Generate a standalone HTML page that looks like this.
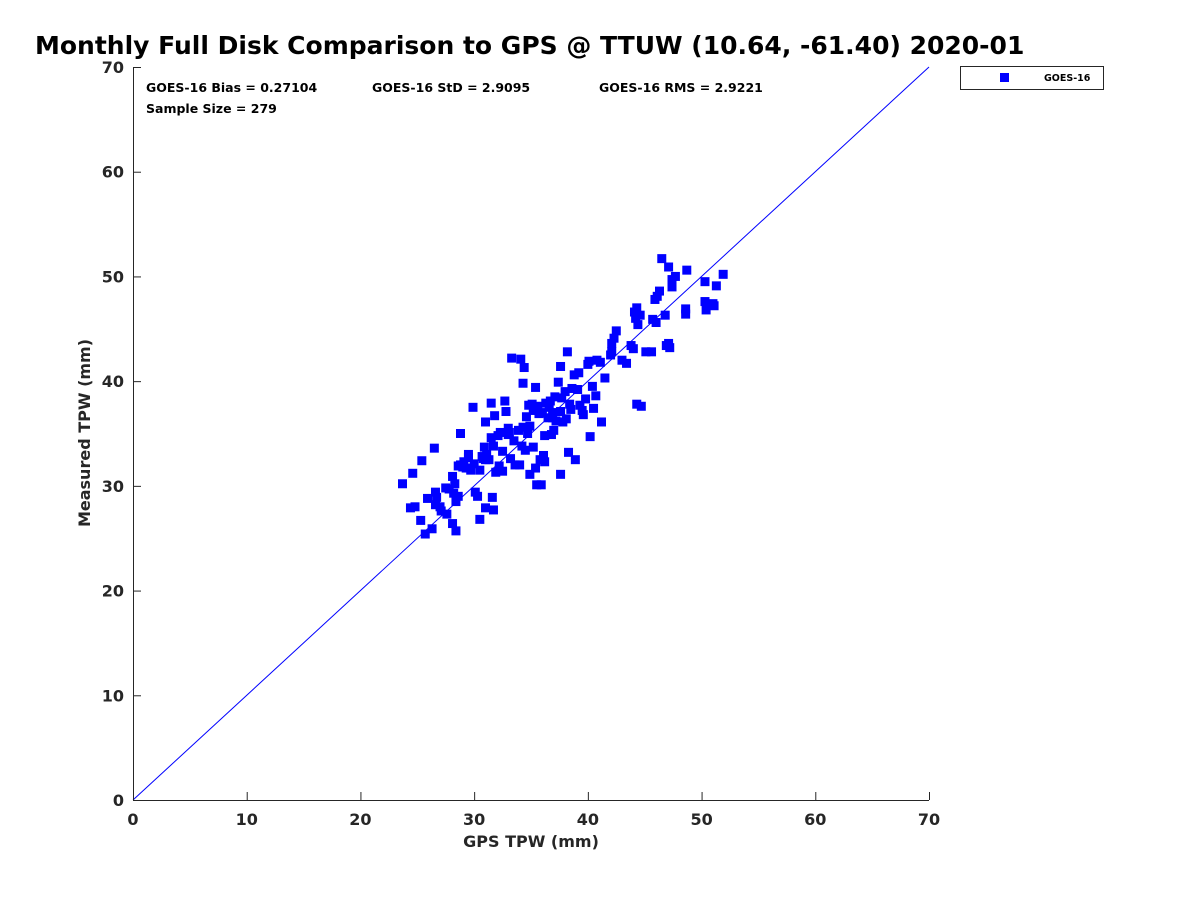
<!DOCTYPE html>
<html><head><meta charset="utf-8"><style>
html,body{margin:0;padding:0;background:#fff;}
svg{display:block;font-family:"DejaVu Sans","Liberation Sans",sans-serif;font-weight:bold;}
</style></head><body>
<svg id="chart" width="1200" height="900" viewBox="0 0 1200 900" xmlns="http://www.w3.org/2000/svg">
<rect width="1200" height="900" fill="#fff"/>
<text x="35" y="54" font-size="25" fill="#000">Monthly Full Disk Comparison to GPS @ TTUW (10.64, -61.40) 2020-01</text>
<text x="146" y="92" font-size="12.5" fill="#000">GOES-16 Bias = 0.27104</text>
<text x="372" y="92" font-size="12.5" fill="#000">GOES-16 StD = 2.9095</text>
<text x="599" y="92" font-size="12.5" fill="#000">GOES-16 RMS = 2.9221</text>
<text x="146" y="113" font-size="12.5" fill="#000">Sample Size = 279</text>
<g>
<rect x="960.5" y="66.5" width="143" height="23" fill="#fff" stroke="#262626" stroke-width="1"/>
<rect x="1000" y="73" width="9" height="9" fill="#0000ff"/>
<text x="1044" y="81" font-size="9.5" fill="#000">GOES-16</text>
</g>
<g id="plot"></g>
<text x="531" y="847" font-size="16" fill="#262626" text-anchor="middle">GPS TPW (mm)</text>
<text transform="translate(90,433) rotate(-90)" font-size="16" fill="#262626" text-anchor="middle">Measured TPW (mm)</text>
</svg>
<script>
const xTicks=[0,10,20,30,40,50,60,70];
const yTicks=[0,10,20,30,40,50,60,70];
const gpsX=[23.7,24.6,24.4,24.8,25.4,25.3,25.7,26.5,25.9,26.6,26.7,26.6,27.0,27.5,27.6,28.1,28.3,28.8,28.4,28.1,28.4,28.2,28.6,28.8,29.1,29.5,29.5,29.9,30.1,30.3,30.5,30.5,30.7,30.9,31.1,31.0,31.0,31.3,31.5,31.5,31.6,31.7,31.7,31.8,32.1,32.3,32.5,32.5,32.7,32.8,33.0,33.2,33.3,33.5,33.6,33.9,34.0,34.1,34.2,34.3,34.4,34.6,34.7,34.8,34.9,35.1,35.2,35.4,35.4,35.5,35.6,35.8,35.9,36.1,36.2,36.2,36.5,36.6,36.7,36.8,36.9,37.1,37.4,37.6,37.6,37.6,37.7,37.8,38.0,38.2,38.3,38.4,38.6,38.8,38.9,39.1,39.3,39.5,39.8,40.0,40.2,40.4,40.5,40.8,41.1,41.2,41.5,
42.0,42.1,42.3,42.5,42.1,43.0,43.4,43.8,44.0,44.2,44.1,44.3,44.4,44.6,44.3,44.7,45.1,45.6,45.7,45.9,46.1,46.3,46.0,46.5,46.8,46.9,47.1,47.2,47.1,47.4,47.4,47.7,48.6,48.6,48.7,50.3,50.3,50.4,50.7,51.1,51.0,51.3,51.9,
29.0,29.7,30.8,31.9,33.0,34.5,35.2,36.3,37.2,38.5,39.2,40.1,36.9,35.7,34.3,33.1,32.2,31.0,30.0,29.3,28.6,27.8,27.1,26.3,39.6,40.7,38.1,37.0,36.0,34.9];
const measY=[30.2,31.2,27.9,28.0,32.4,26.7,25.4,33.6,28.8,29.4,28.9,28.2,28.0,29.8,27.3,30.9,30.2,35.0,25.7,26.4,28.5,29.3,31.9,32.0,32.3,32.7,33.0,37.5,29.4,29.0,26.8,31.5,32.8,33.7,33.0,36.1,27.9,32.5,37.9,34.6,28.9,33.8,27.7,36.7,34.8,35.1,31.4,33.3,38.1,37.1,35.5,32.6,42.2,34.3,32.0,35.3,32.0,42.1,33.8,39.8,41.3,36.6,35.0,37.7,31.1,37.8,33.7,39.4,31.7,30.1,37.6,32.5,30.1,32.9,32.3,34.8,36.5,37.5,38.1,34.9,37.0,38.5,39.9,41.4,37.1,31.1,38.4,36.1,39.0,42.8,33.2,37.8,39.3,40.6,32.5,39.2,37.7,37.2,38.3,41.6,34.7,39.5,37.4,42.0,41.8,36.1,40.3,
42.5,43.6,44.1,44.8,42.8,42.0,41.7,43.4,43.1,46.0,46.6,47.0,45.4,46.3,37.8,37.6,42.8,42.8,45.9,47.8,48.1,48.6,45.6,51.7,46.3,43.4,43.6,43.2,50.9,49.7,49.0,50.0,46.9,46.4,50.6,49.5,47.6,46.8,47.3,47.2,47.4,49.1,50.2,
31.8,31.5,32.6,31.3,34.9,33.4,37.2,37.9,36.2,37.3,40.8,41.9,36.5,36.9,35.6,35.1,31.9,32.5,32.1,31.7,29.0,29.7,27.6,25.9,36.8,38.6,36.4,35.3,37.0,35.7];
const x0=133,x1=929,y0=800,y1=67,X=v=>x0+(x1-x0)*v/70,Y=v=>y0-(y0-y1)*v/70;
const NS='http://www.w3.org/2000/svg',g=document.getElementById('plot');
function mk(t,a){const e=document.createElementNS(NS,t);for(const k in a)e.setAttribute(k,a[k]);g.appendChild(e);return e;}
let e=mk('line',{x1:X(0),y1:Y(0),x2:X(70),y2:Y(70),stroke:'#0000ff','stroke-width':1});


for(let i=0;i<Math.min(gpsX.length,measY.length);i++){
 const p=mk('rect',{x:X(gpsX[i])-4.5,y:Y(measY[i])-4.5,width:9,height:9,fill:'#0000ff'});
 
 
}
e=mk('path',{d:`M${x0+.5},${y1}V${y0+.5}H${x1}`,stroke:'#262626',fill:'none','stroke-width':1});


xTicks.forEach(v=>{
 const t=mk('line',{x1:X(v)+.5,x2:X(v)+.5,y1:y0,y2:y0-8,stroke:'#262626'});
 
 
 const l=mk('text',{x:X(v),y:y0+25,'font-size':16,fill:'#262626','text-anchor':'middle'});
 l.textContent=v;
 
 
});
yTicks.forEach(v=>{
 const t=mk('line',{x1:x0,x2:x0+8,y1:Y(v)+.5,y2:Y(v)+.5,stroke:'#262626'});
 
 
 const l=mk('text',{x:x0-9,y:Y(v)+6,'font-size':16,fill:'#262626','text-anchor':'end'});
 l.textContent=v;
 
 
});
</script>
</body></html>
